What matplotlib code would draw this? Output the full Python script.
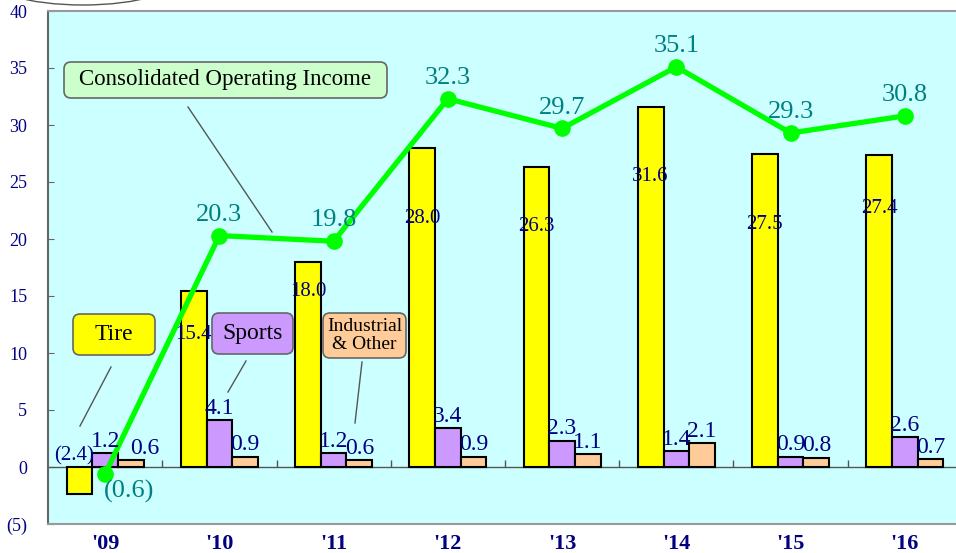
import numpy as np
import matplotlib
matplotlib.use("Agg")
from matplotlib import pyplot as plt
from matplotlib import transforms as mtransforms
from matplotlib.patches import FancyBboxPatch, Ellipse
from matplotlib.lines import Line2D

plt.rcParams['font.family'] = ['Liberation Serif', 'DejaVu Serif']

# Operating income by segment (billion yen)
years = ["'09", "'10", "'11", "'12", "'13", "'14", "'15", "'16"]
tire = [-2.4, 15.4, 18.0, 28.0, 26.3, 31.6, 27.5, 27.4]
sports = [1.2, 4.1, 1.2, 3.4, 2.3, 1.4, 0.9, 2.6]
industrial = [0.6, 0.9, 0.6, 0.9, 1.1, 2.1, 0.8, 0.7]
consolidated = [-0.6, 20.3, 19.8, 32.3, 29.7, 35.1, 29.3, 30.8]

# where the tire values sit inside their bars
tire_label_y = [1.0, 11.6, 15.4, 21.8, 21.1, 25.5, 21.3, 22.7]

NAVY = '#000080'
TEAL = '#008080'


def fmt(v):
    return f'({abs(v):.1f})' if v < 0 else f'{v:.1f}'


def fmt_tick(v):
    return f'({abs(v)})' if v < 0 else f'{v}'


W, H = 956, 553
fig = plt.figure(figsize=(W / 100, H / 100), dpi=100)
ax = fig.add_axes([48 / W, 29 / H, 914 / W, 513 / H])
ax.set_facecolor('#ccffff')

# pixel coords, origin top-left, for the callout boxes
px = mtransforms.Affine2D().scale(1 / W, -1 / H).translate(0, 1) + fig.transFigure

x = np.arange(len(years))
w = 0.225

ax.axhline(0, color='#555555', lw=1, zorder=2)
ax.vlines(np.arange(len(years) - 1) + 0.5, 0, 0.6, color='#555555', lw=1, zorder=2)

ax.bar(x - w, tire, w, color='#ffff00', edgecolor='black', lw=1.5, zorder=3)
ax.bar(x, sports, w, color='#cc99ff', edgecolor='black', lw=1.5, zorder=3)
ax.bar(x + w, industrial, w, color='#ffcc99', edgecolor='black', lw=1.5, zorder=3)

ax.plot(x, consolidated, color='#00ff00', lw=3.8, marker='o', ms=11, zorder=4)

# value labels
for i in range(len(years)):
    dx = -4 if tire[i] < 0 else 0
    ax.annotate(fmt(tire[i]), (x[i] - w, tire_label_y[i]), xytext=(dx, 0),
                textcoords='offset points', ha='center', va='center',
                fontsize=15, color=NAVY, zorder=5)
    ax.annotate(fmt(sports[i]), (x[i], sports[i]), xytext=(0, 1),
                textcoords='offset points', ha='center', va='bottom',
                fontsize=17, color=NAVY, zorder=5)
    # first year's label is pushed right, clear of its neighbour
    ix = 10 if i == 0 else 0
    ax.annotate(fmt(industrial[i]), (x[i] + w, industrial[i]), xytext=(ix, 1),
                textcoords='offset points', ha='center', va='bottom',
                fontsize=17, color=NAVY, zorder=5)
    if consolidated[i] < 0:
        off = (17, -13)
    else:
        off = (0, 15)
    ax.annotate(fmt(consolidated[i]), (x[i], consolidated[i]), xytext=off,
                textcoords='offset points', ha='center', va='center',
                fontsize=19, color=TEAL, zorder=5)


def callout(x0, y0, x1, y1, text, color, size, leader):
    box = FancyBboxPatch((x0, y0), x1 - x0, y1 - y0,
                         boxstyle='round,pad=0,rounding_size=7',
                         fc=color, ec='#666666', lw=1.2, transform=px,
                         clip_on=False, zorder=6)
    ax.add_patch(box)
    ax.text((x0 + x1) / 2, (y0 + y1) / 2, text, transform=px, ha='center',
            va='center', fontsize=size, color='black', zorder=7,
            linespacing=1.05, clip_on=False)
    (lx0, ly0), (lx1, ly1) = leader
    ax.add_line(Line2D([lx0, lx1], [ly0, ly1], transform=px, color='#555555',
                       lw=1, clip_on=False, zorder=6))


callout(64, 62, 387, 98, 'Consolidated Operating Income', '#ccffcc', 16.5,
        ((188, 107), (272, 232)))
callout(73, 314, 155, 355, 'Tire', '#ffff00', 17, ((111, 367), (80, 426)))
callout(212, 313, 293, 354, 'Sports', '#cc99ff', 17, ((246, 361), (228, 392)))
callout(323, 313, 406, 358, 'Industrial\n& Other', '#ffcc99', 14,
        ((362, 362), (355, 423)))

# edge of a shape sitting above the chart
fig.add_artist(Ellipse((83, -25), 200, 60, transform=px, fill=False,
                       ec='#555555', lw=1))

ax.set_xlim(-0.5, len(years) - 0.5)
ax.set_ylim(-5, 40)
ax.set_xticks(x)
ax.set_xticklabels(years, fontweight='bold')
yt = np.arange(-5, 41, 5)
ax.set_yticks(yt)
ax.set_yticklabels([fmt_tick(int(v)) for v in yt])
ax.tick_params(axis='y', direction='in', length=4, color='#666666', pad=15,
               labelsize=13, labelcolor=NAVY)
ax.tick_params(axis='x', length=0, pad=7, labelsize=16, labelcolor=NAVY)

for s in ax.spines.values():
    s.set_color('#999999')
    s.set_linewidth(1.5)
ax.spines['left'].set_color('#666666')

fig.savefig('out.png', dpi=100)
